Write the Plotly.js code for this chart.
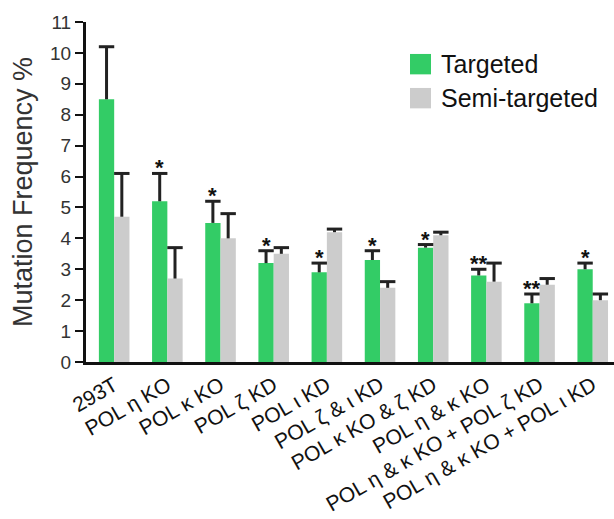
<!DOCTYPE html>
<html>
<head>
<meta charset="utf-8">
<script src="https://cdn.plot.ly/plotly-3.0.1.min.js"></script>
<style>html,body{margin:0;padding:0;background:#fff;}#chart{width:614px;height:519px;}</style>
</head>
<body>
<div id="chart"></div>
<script>
const categories = ["293T", "POL η KO", "POL κ KO", "POL ζ KD", "POL ι KD", "POL ζ & ι KD",
  "POL κ KO & ζ KD", "POL η & κ KO", "POL η & κ KO + POL ζ KD", "POL η & κ KO + POL ι KD"];
const targeted = [8.5, 5.2, 4.5, 3.2, 2.9, 3.3, 3.7, 2.8, 1.9, 3.0];
const targetedErr = [1.7, 0.9, 0.7, 0.4, 0.3, 0.3, 0.1, 0.2, 0.3, 0.2];
const semiTargeted = [4.7, 2.7, 4.0, 3.5, 4.2, 2.4, 4.1, 2.6, 2.5, 2.0];
const semiTargetedErr = [1.4, 1.0, 0.8, 0.2, 0.1, 0.2, 0.1, 0.6, 0.2, 0.2];
const stars = ["", "*", "*", "*", "*", "*", "*", "**", "**", "*"];
const seriesNames = ["Targeted", "Semi-targeted"];

const GREEN = "#33CC66", GRAY = "#CCCCCC", DARK = "#222";
const FONT = "Arial, 'Liberation Sans', Helvetica, sans-serif";
const bargap = 0.425;
const xRange = [-0.53, 9.4];
const offset = (1 - bargap) / 4;   // bar centre distance from category centre

const stem = {type: "data", symmetric: false, color: DARK, thickness: 3, width: 0};
const traces = [
  {type: "bar", x: categories, y: targeted, name: seriesNames[0], marker: {color: GREEN},
   error_y: Object.assign({array: targetedErr, arrayminus: targeted.map(() => 0)}, stem)},
  {type: "bar", x: categories, y: semiTargeted, name: seriesNames[1], marker: {color: GRAY},
   error_y: Object.assign({array: semiTargetedErr, arrayminus: semiTargeted.map(() => 0)}, stem)},
  // error-bar caps (top only)
  {type: "scatter", mode: "markers", xaxis: "x2", yaxis: "y", hoverinfo: "skip",
   x: categories.map((c, i) => i - offset), y: targeted.map((v, i) => v + targetedErr[i]),
   marker: {symbol: "line-ew", size: 11, line: {width: 3, color: DARK}}},
  {type: "scatter", mode: "markers", xaxis: "x2", yaxis: "y", hoverinfo: "skip",
   x: categories.map((c, i) => i + offset), y: semiTargeted.map((v, i) => v + semiTargetedErr[i]),
   marker: {symbol: "line-ew", size: 11, line: {width: 3, color: DARK}}}
];

const annotations = [];
stars.forEach((s, i) => {
  if (!s) return;
  annotations.push({x: i - offset, y: targeted[i] + targetedErr[i], xref: "x2", yref: "y",
    text: "<b>" + s + "</b>", showarrow: false, yanchor: "bottom", yshift: -9,
    font: {family: FONT, size: 22, color: "#111"}});
});

// legend drawn as paper shapes + labels
const legendColors = [GREEN, GRAY];
const shapes = [];
const legTop = [0.906, 0.806];
legendColors.forEach((c, k) => {
  shapes.push({type: "rect", xref: "paper", yref: "paper", x0: 0.6136, x1: 0.6534,
    y0: legTop[k] - 0.06, y1: legTop[k], fillcolor: c, line: {width: 0}});
  annotations.push({xref: "paper", yref: "paper", x: 0.6686, y: legTop[k] - 0.03,
    xanchor: "left", yanchor: "middle", showarrow: false, text: seriesNames[k],
    font: {family: FONT, size: 25, color: "#111"}});
});

const layout = {
  width: 614, height: 519,
  margin: {l: 86, r: 0, t: 22, b: 157},
  paper_bgcolor: "#fff", plot_bgcolor: "#fff",
  barmode: "group", bargap: bargap, bargroupgap: 0,
  showlegend: false,
  font: {family: FONT, color: "#222"},
  xaxis: {type: "category", range: xRange, showline: true, linecolor: "#111", linewidth: 3,
    ticks: "", tickangle: -30, tickfont: {family: FONT, size: 21, color: "#111"},
    showgrid: false, zeroline: false, fixedrange: true},
  xaxis2: {type: "linear", overlaying: "x", range: xRange, visible: false, fixedrange: true},
  yaxis: {range: [0, 11], dtick: 1, showline: true, linecolor: "#111", linewidth: 3,
    ticks: "outside", ticklen: 8, tickwidth: 2, tickcolor: "#111",
    tickfont: {family: FONT, size: 19, color: "#333"}, showgrid: false, zeroline: false,
    title: {text: "Mutation Frequency %", font: {family: FONT, size: 27, color: "#333"}, standoff: 10}},
  annotations: annotations,
  shapes: shapes
};

Plotly.newPlot("chart", traces, layout, {displayModeBar: false, staticPlot: true});
</script>
</body>
</html>
